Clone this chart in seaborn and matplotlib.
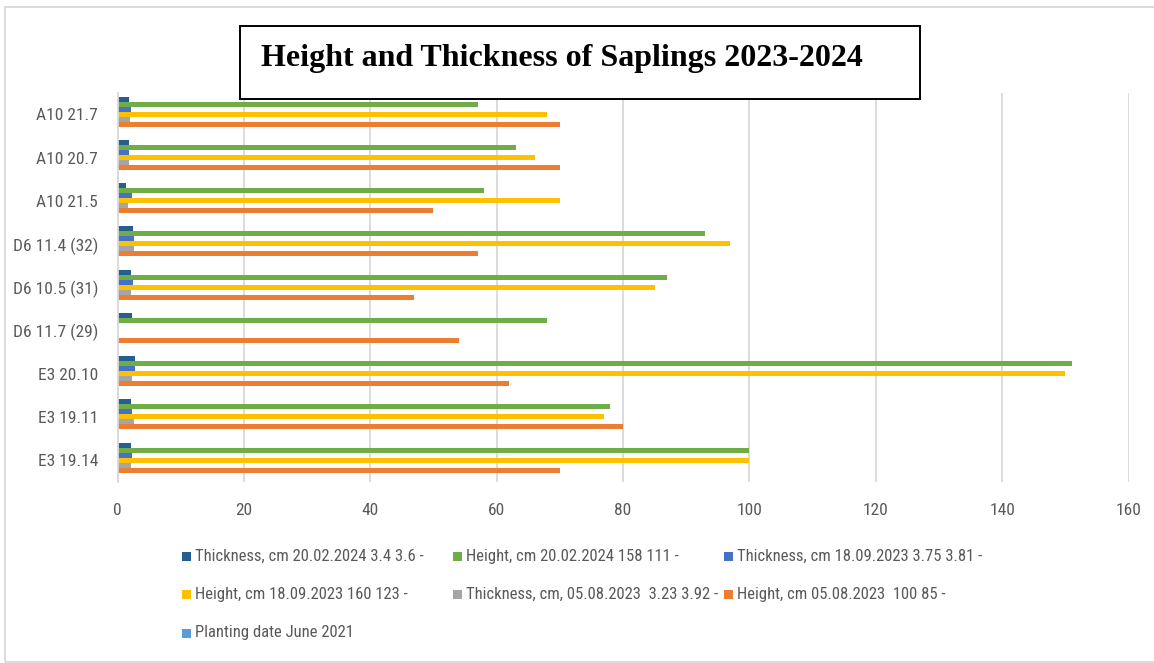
import numpy as np
import pandas as pd
import matplotlib
matplotlib.use("Agg")
import matplotlib.pyplot as plt
from matplotlib import font_manager
from matplotlib.font_manager import FontProperties
from matplotlib.patches import Rectangle
import seaborn as sns

# ---- data -------------------------------------------------------------
sites = ["A10 21.7", "A10 20.7", "A10 21.5", "D6 11.4 (32)", "D6 10.5 (31)",
         "D6 11.7 (29)", "E3 20.10", "E3 19.11", "E3 19.14"]

series_names = [
    "Thickness, cm 20.02.2024 3.4 3.6 -",
    "Height, cm 20.02.2024 158 111 -",
    "Thickness, cm 18.09.2023 3.75 3.81 -",
    "Height, cm 18.09.2023 160 123 -",
    "Thickness, cm, 05.08.2023  3.23 3.92 -",
    "Height, cm 05.08.2023  100 85 -",
    "Planting date June 2021",
]

thickness_feb24 = [1.87, 1.87, 1.3, 2.45, 2.14, 2.3, 2.8, 2.1, 2.1]
height_feb24 = [57, 63, 58, 93, 87, 68, 151, 78, 100]
thickness_sep23 = [2.14, 1.87, 2.3, 2.56, 2.45, np.nan, 2.8, 2.3, 2.3]
height_sep23 = [68, 66, 70, 97, 85, np.nan, 150, 77, 100]
thickness_aug23 = [1.98, 1.87, 1.7, 2.56, 2.14, np.nan, 2.3, 2.66, 2.1]
height_aug23 = [70, 70, 50, 57, 47, 54, 62, 80, 70]
planting = [0, 0, 0, 0, 0, 0, 0, 0, 0]

colors = ["#255E91", "#70AD47", "#4472C4", "#FFC000", "#A5A5A5", "#ED7D31", "#5B9BD5"]
x_ticks = [0, 20, 40, 60, 80, 100, 120, 140, 160]
title = "Height and Thickness of Saplings 2023-2024"

# ---- long-form table --------------------------------------------------
columns = [thickness_feb24, height_feb24, thickness_sep23, height_sep23,
           thickness_aug23, height_aug23, planting]
rows = []
for name, vals in zip(series_names, columns):
    for site, v in zip(sites, vals):
        rows.append({"site": site, "series": name, "value": v})
df = pd.DataFrame(rows)

# ---- fonts: prefer a narrow sans for the labels -------------------------
sns.set_theme(style="white")


def pick_narrow_font():
    entries = font_manager.fontManager.ttflist
    regular = [f for f in entries if f.style == "normal"
               and f.weight in (400, "normal", "regular", "book")]
    for fam in ["Liberation Sans Narrow", "Arial Narrow", "Roboto Condensed",
                "Open Sans Condensed", "Noto Sans Condensed", "Carlito"]:
        for f in regular:
            if f.name == fam:
                return f.fname, 1.0
    for fam in ["Roboto", "Noto Sans", "Open Sans", "DejaVu Sans", "Lato", "Inter"]:
        for f in regular:
            if f.name == fam and str(f.stretch) in ("condensed", "semi-condensed", "75", "87.5"):
                return f.fname, 1.0 if fam != "DejaVu Sans" else 0.9
    return None, 0.82


narrow_path, size_scale = pick_narrow_font()
if narrow_path:
    base_fp = FontProperties(fname=narrow_path)
else:
    base_fp = FontProperties(family=["Liberation Sans", "DejaVu Sans"])
plt.rcParams["font.family"] = ["Liberation Sans", "DejaVu Sans"]

text_grey = "#595959"
grid_grey = "#D9D9D9"
axis_size = 12.5 * size_scale
legend_size = 12 * size_scale

W, H = 1154, 663
fig = plt.figure(figsize=(W / 100, H / 100), dpi=100)
fig.patch.set_facecolor("white")

# plot area in pixel terms
left_px, right_px, top_px, bottom_px = 117.5, 1128.5, 92.7, 481.7
ax = fig.add_axes([left_px / W, 1 - bottom_px / H,
                   (right_px - left_px) / W, (bottom_px - top_px) / H])

sns.barplot(data=df, x="value", y="site", hue="series", orient="h",
            order=sites, hue_order=series_names, palette=colors,
            width=0.81, saturation=1, linewidth=0, legend=False, ax=ax,
            errorbar=None)

ax.set_xlim(0, 160)
ax.set_ylim(len(sites) - 0.5, -0.5)
ax.set_xticks(x_ticks)
ax.set_xticklabels([str(t) for t in x_ticks])
ax.set_xlabel("")
ax.set_ylabel("")
ax.set_axisbelow(True)
ax.xaxis.grid(True, color=grid_grey, linewidth=1.3)
ax.yaxis.grid(False)
for side in ["top", "right", "bottom"]:
    ax.spines[side].set_visible(False)
ax.spines["left"].set_color(grid_grey)
ax.spines["left"].set_linewidth(1.3)
ax.tick_params(axis="x", length=0, pad=15, labelcolor=text_grey)
ax.tick_params(axis="y", length=0, pad=14, labelcolor=text_grey)
for lbl in ax.get_xticklabels() + ax.get_yticklabels():
    lbl.set_fontproperties(base_fp)
    lbl.set_fontsize(axis_size)

# outer chart frame
fig.add_artist(Rectangle((5 / W, 1 - 662 / H), (W + 10) / W, (662 - 7) / H,
                         transform=fig.transFigure, facecolor="none",
                         edgecolor=grid_grey, linewidth=1.3, zorder=5))

# boxed title
fig.add_artist(Rectangle((240 / W, 1 - 99 / H), (920 - 240) / W, (99 - 26) / H,
                         transform=fig.transFigure, facecolor="white",
                         edgecolor="black", linewidth=1.4, zorder=6))
fig.text(261 / W, 1 - 66 / H, title, ha="left", va="baseline",
         fontsize=23, fontweight="bold", family=["Liberation Serif", "DejaVu Serif"],
         color="black", zorder=7)

# legend, three columns, row-major
col_x = [182, 453, 724]
row_y = [556, 594, 633]
sq = 9
for i, (name, c) in enumerate(zip(series_names, colors)):
    r, k = divmod(i, 3)
    x0, y0 = col_x[k], row_y[r]
    fig.add_artist(Rectangle((x0 / W, 1 - (y0 + sq / 2) / H), sq / W, sq / H,
                             transform=fig.transFigure, facecolor=c,
                             edgecolor="none", zorder=5))
    t = fig.text((x0 + 13) / W, 1 - y0 / H, name, ha="left", va="center",
                 color=text_grey)
    t.set_fontproperties(base_fp)
    t.set_fontsize(legend_size)

fig.savefig("out.png", dpi=100, facecolor="white")
